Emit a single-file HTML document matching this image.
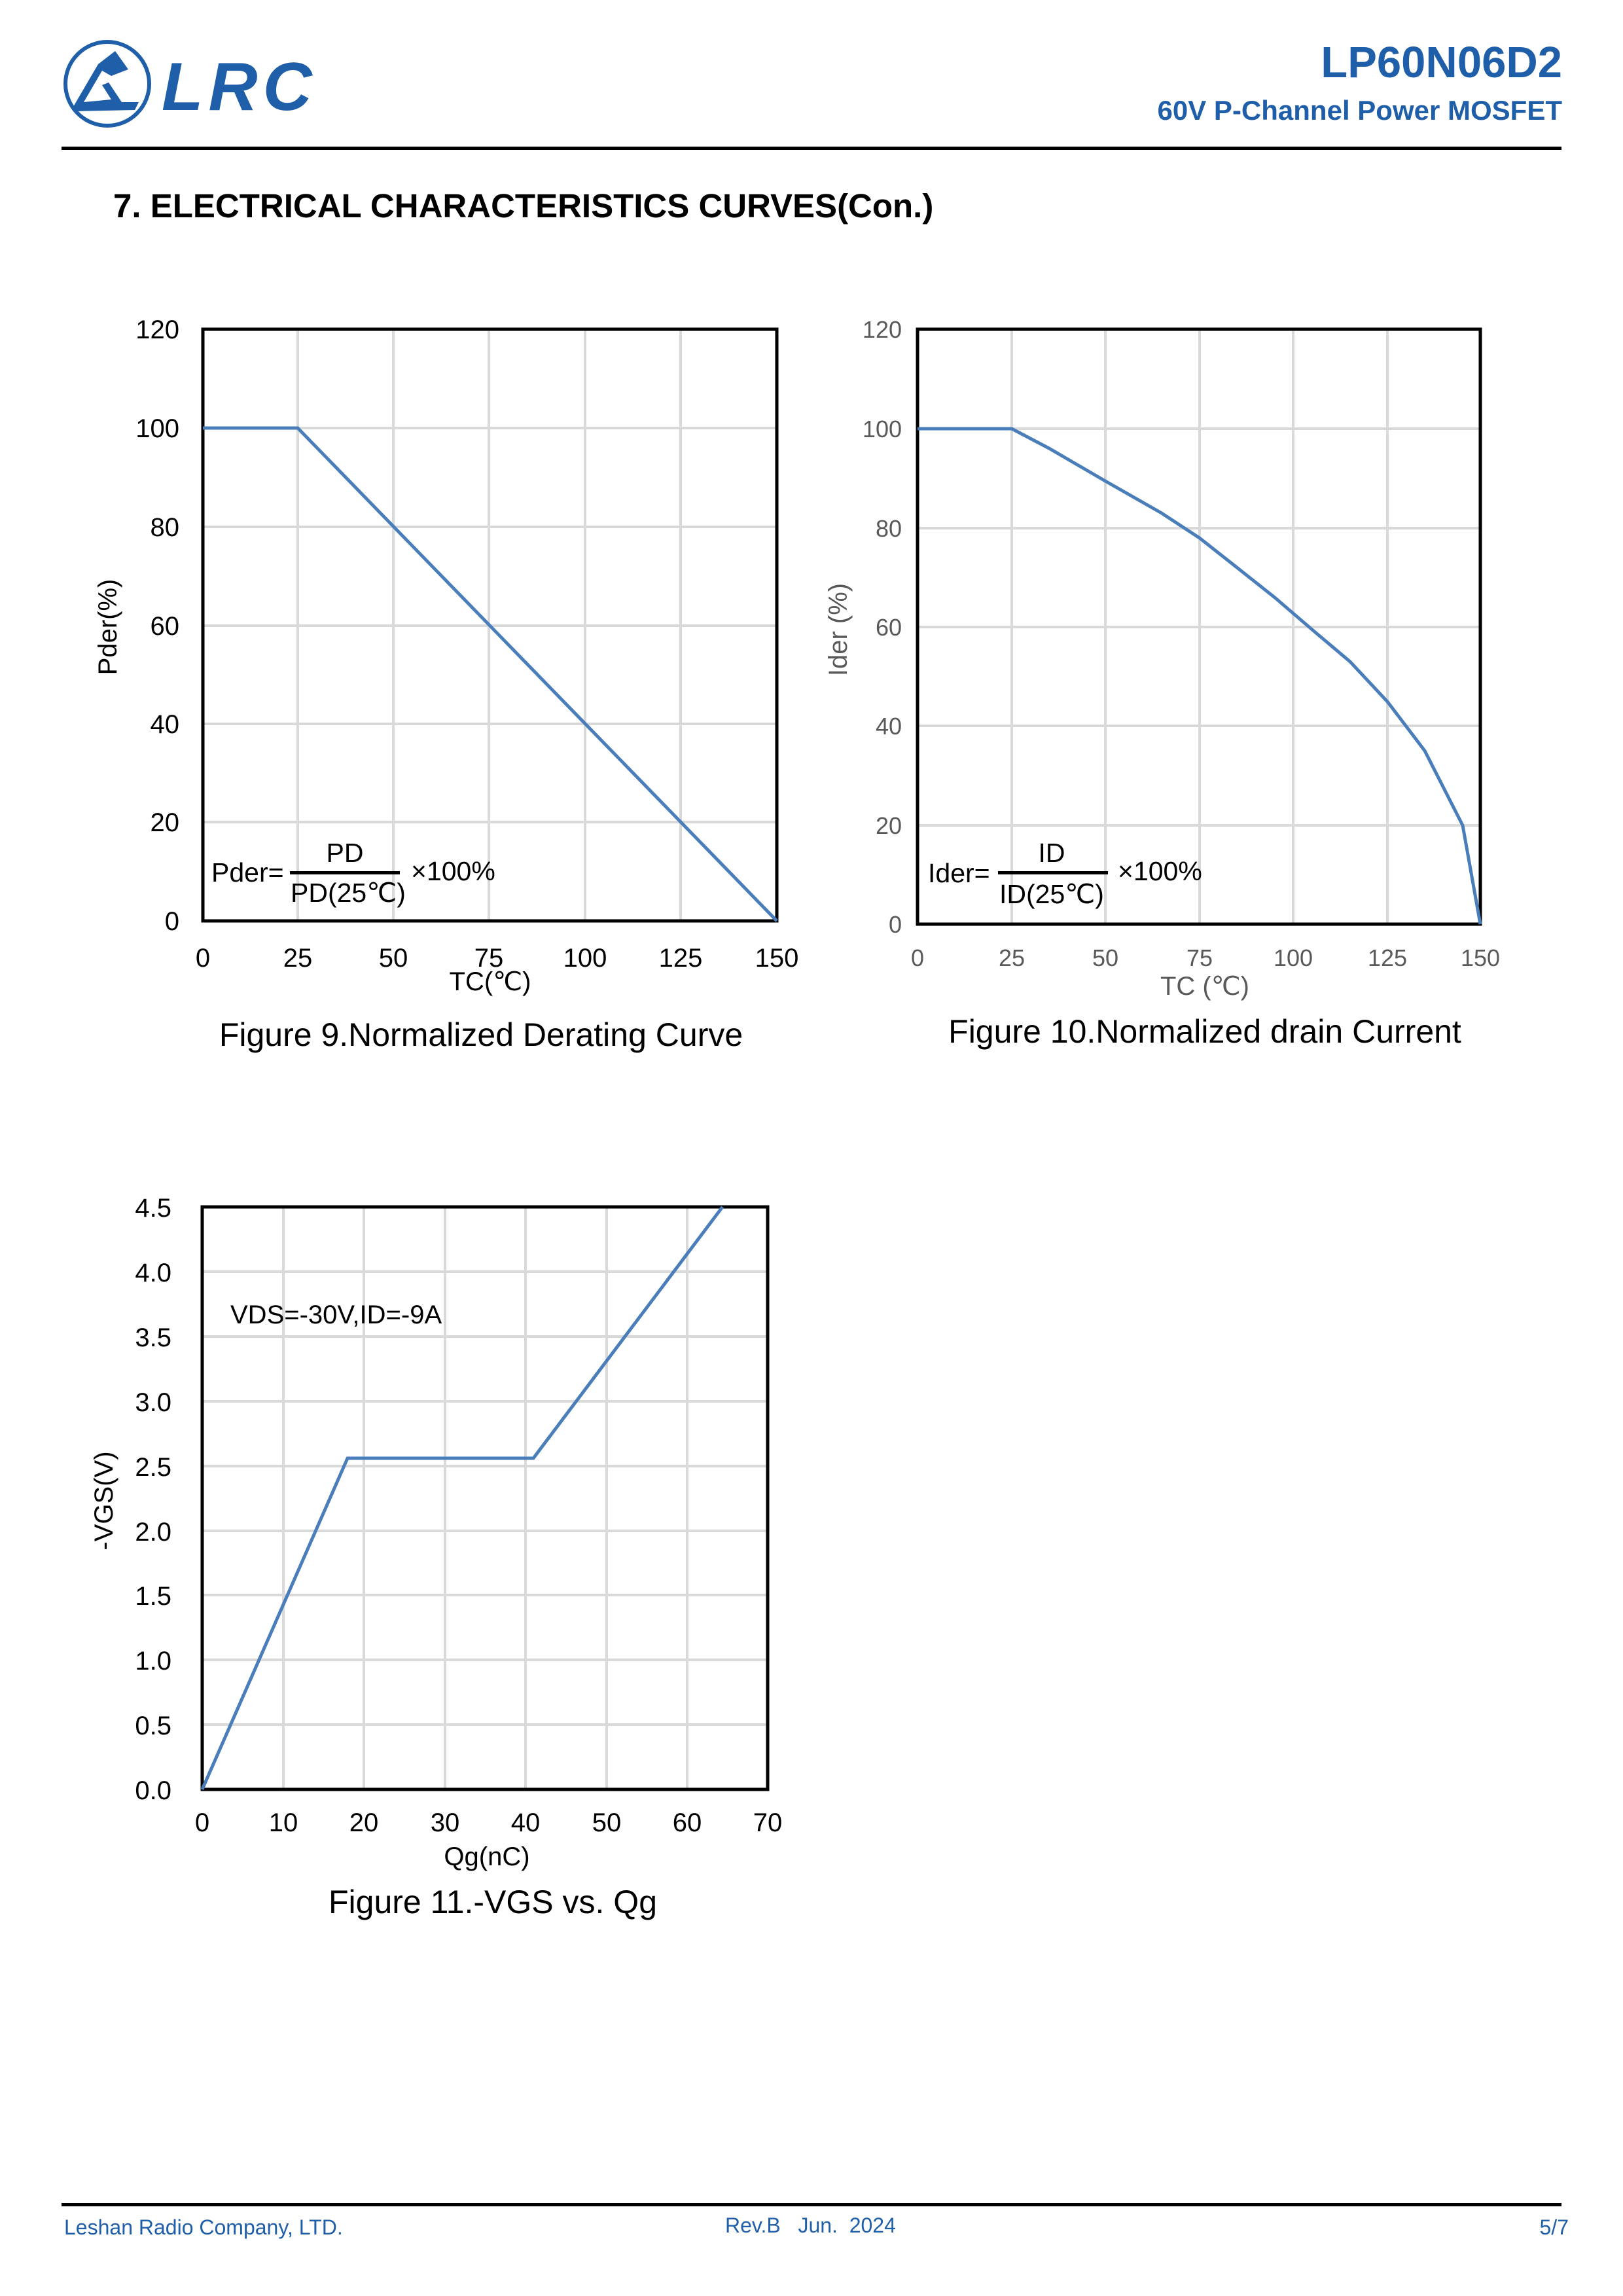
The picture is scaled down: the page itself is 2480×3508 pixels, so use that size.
<!DOCTYPE html>
<html><head><meta charset="utf-8"><style>
body{margin:0;background:#fff}
svg{display:block}
text{font-family:"Liberation Sans",Arial,sans-serif;white-space:pre}
</style></head><body>
<svg width="2480" height="3508" viewBox="0 0 2480 3508" xmlns="http://www.w3.org/2000/svg">
<!-- Header -->
<circle cx="164" cy="128" r="64" fill="none" stroke="#1f5ea8" stroke-width="6"/>
<path d="M112 163 L150 98 L176 78 L196 106 L170 116 L156 108 L128 156 L170 152 L156 130 L166 126 L186 156 L212 156 L206 168 L118 170 Z" fill="#1f5ea8"/>
<text x="247" y="168" font-size="104" font-weight="bold" font-style="italic" fill="#1f5ea8" letter-spacing="8">LRC</text>
<text x="2387" y="118" font-size="67" font-weight="bold" fill="#1f5ea8" text-anchor="end">LP60N06D2</text>
<text x="2387" y="183" font-size="42" font-weight="bold" fill="#1f5ea8" text-anchor="end">60V P-Channel Power MOSFET</text>
<rect x="94" y="224" width="2292" height="5" fill="#000"/>
<text x="173" y="332" font-size="51" font-weight="bold">7. ELECTRICAL CHARACTERISTICS CURVES(Con.)</text>

<!-- Chart 1 -->
<g stroke="#d9d9d9" stroke-width="4">
<line x1="455" y1="503" x2="455" y2="1407"/><line x1="601" y1="503" x2="601" y2="1407"/><line x1="747" y1="503" x2="747" y2="1407"/><line x1="894" y1="503" x2="894" y2="1407"/><line x1="1040" y1="503" x2="1040" y2="1407"/>
<line x1="310" y1="654" x2="1187" y2="654"/><line x1="310" y1="805" x2="1187" y2="805"/><line x1="310" y1="956" x2="1187" y2="956"/><line x1="310" y1="1106" x2="1187" y2="1106"/><line x1="310" y1="1256" x2="1187" y2="1256"/>
</g>
<rect x="310" y="503" width="877" height="904" fill="none" stroke="#000" stroke-width="5"/>
<polyline points="310,654 455,654 1187,1407" fill="none" stroke="#4a7ebb" stroke-width="5"/>
<g font-size="40" text-anchor="end">
<text x="274" y="517">120</text><text x="274" y="668">100</text><text x="274" y="819">80</text><text x="274" y="970">60</text><text x="274" y="1120">40</text><text x="274" y="1270">20</text><text x="274" y="1421">0</text>
</g>
<g font-size="40" text-anchor="middle">
<text x="310" y="1477">0</text><text x="455" y="1477">25</text><text x="601" y="1477">50</text><text x="747" y="1477">75</text><text x="894" y="1477">100</text><text x="1040" y="1477">125</text><text x="1187" y="1477">150</text>
<text x="749" y="1513">TC(℃)</text>
</g>
<text transform="translate(178,958) rotate(-90)" font-size="40" text-anchor="middle">Pder(%)</text>
<text x="323" y="1347" font-size="41">Pder=</text>
<text x="527" y="1317" font-size="41" text-anchor="middle">PD</text>
<rect x="443" y="1331" width="168" height="5" fill="#000"/>
<text x="444" y="1378" font-size="41">PD(25℃)</text>
<text x="628" y="1345" font-size="41">×100%</text>
<text x="735" y="1598" font-size="50" text-anchor="middle">Figure 9.Normalized Derating Curve</text>

<!-- Chart 2 -->
<g stroke="#d9d9d9" stroke-width="4">
<line x1="1546" y1="503" x2="1546" y2="1412"/><line x1="1689" y1="503" x2="1689" y2="1412"/><line x1="1833" y1="503" x2="1833" y2="1412"/><line x1="1976" y1="503" x2="1976" y2="1412"/><line x1="2120" y1="503" x2="2120" y2="1412"/>
<line x1="1402" y1="655" x2="2262" y2="655"/><line x1="1402" y1="807" x2="2262" y2="807"/><line x1="1402" y1="958" x2="2262" y2="958"/><line x1="1402" y1="1109" x2="2262" y2="1109"/><line x1="1402" y1="1261" x2="2262" y2="1261"/>
</g>
<rect x="1402" y="503" width="860" height="909" fill="none" stroke="#000" stroke-width="5"/>
<polyline points="1402,655 1546,655 1603,685 1689,735 1775,784 1833,822 1890,867 1948,913 2005,962 2063,1011 2120,1072 2177,1147 2235,1261 2262,1412" fill="none" stroke="#4a7ebb" stroke-width="5"/>
<g font-size="36" text-anchor="end" fill="#595959">
<text x="1378" y="516">120</text><text x="1378" y="668">100</text><text x="1378" y="820">80</text><text x="1378" y="971">60</text><text x="1378" y="1122">40</text><text x="1378" y="1274">20</text><text x="1378" y="1425">0</text>
</g>
<g font-size="36" text-anchor="middle" fill="#595959">
<text x="1402" y="1476">0</text><text x="1546" y="1476">25</text><text x="1689" y="1476">50</text><text x="1833" y="1476">75</text><text x="1976" y="1476">100</text><text x="2120" y="1476">125</text><text x="2262" y="1476">150</text>
<text x="1841" y="1520" font-size="40">TC (℃)</text>
</g>
<text transform="translate(1294,962) rotate(-90)" font-size="40" text-anchor="middle" fill="#595959">Ider (%)</text>
<text x="1418" y="1348" font-size="41">Ider=</text>
<text x="1607" y="1317" font-size="41" text-anchor="middle">ID</text>
<rect x="1525" y="1331" width="168" height="5" fill="#000"/>
<text x="1527" y="1380" font-size="41">ID(25℃)</text>
<text x="1708" y="1345" font-size="41">×100%</text>
<text x="1841" y="1593" font-size="50" text-anchor="middle">Figure 10.Normalized drain Current</text>

<!-- Chart 3 -->
<g stroke="#d9d9d9" stroke-width="4">
<line x1="433" y1="1844" x2="433" y2="2734"/><line x1="556" y1="1844" x2="556" y2="2734"/><line x1="680" y1="1844" x2="680" y2="2734"/><line x1="803" y1="1844" x2="803" y2="2734"/><line x1="927" y1="1844" x2="927" y2="2734"/><line x1="1050" y1="1844" x2="1050" y2="2734"/>
<line x1="309" y1="1943" x2="1173" y2="1943"/><line x1="309" y1="2042" x2="1173" y2="2042"/><line x1="309" y1="2141" x2="1173" y2="2141"/><line x1="309" y1="2240" x2="1173" y2="2240"/><line x1="309" y1="2339" x2="1173" y2="2339"/><line x1="309" y1="2437" x2="1173" y2="2437"/><line x1="309" y1="2536" x2="1173" y2="2536"/><line x1="309" y1="2635" x2="1173" y2="2635"/>
</g>
<rect x="309" y="1844" width="864" height="890" fill="none" stroke="#000" stroke-width="5"/>
<polyline points="309,2734 531,2228 815,2228 1104,1844" fill="none" stroke="#4a7ebb" stroke-width="5"/>
<g font-size="40" text-anchor="end">
<text x="262" y="1859">4.5</text><text x="262" y="1958">4.0</text><text x="262" y="2057">3.5</text><text x="262" y="2156">3.0</text><text x="262" y="2255">2.5</text><text x="262" y="2354">2.0</text><text x="262" y="2452">1.5</text><text x="262" y="2551">1.0</text><text x="262" y="2650">0.5</text><text x="262" y="2749">0.0</text>
</g>
<g font-size="40" text-anchor="middle">
<text x="309" y="2798">0</text><text x="433" y="2798">10</text><text x="556" y="2798">20</text><text x="680" y="2798">30</text><text x="803" y="2798">40</text><text x="927" y="2798">50</text><text x="1050" y="2798">60</text><text x="1173" y="2798">70</text>
<text x="744" y="2850">Qg(nC)</text>
</g>
<text transform="translate(172,2293) rotate(-90)" font-size="40" text-anchor="middle">-VGS(V)</text>
<text x="352" y="2022" font-size="40">VDS=-30V,ID=-9A</text>
<text x="753" y="2923" font-size="50" text-anchor="middle">Figure 11.-VGS vs. Qg</text>

<!-- Footer -->
<rect x="94" y="3366" width="2292" height="5" fill="#000"/>
<text x="98" y="3414" font-size="32" fill="#1f5ea8">Leshan Radio Company, LTD.</text>
<text x="1108" y="3411" font-size="32" fill="#1f5ea8">Rev.B   Jun.  2024</text>
<text x="2397" y="3414" font-size="32" fill="#1f5ea8" text-anchor="end">5/7</text>
</svg>
</body></html>
